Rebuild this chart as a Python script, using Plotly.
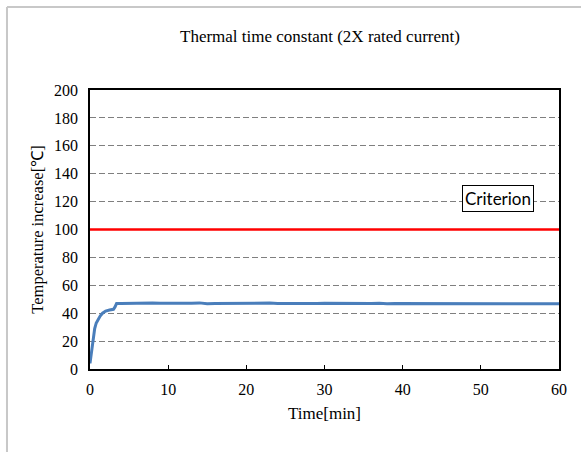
import plotly.graph_objects as go

# Data
time_min = [0, 0.2, 0.4, 0.6, 0.8, 1.0, 1.3, 1.6, 2.0, 2.5, 3.0, 3.2, 3.4,
            4, 5, 6, 7, 8, 9, 10, 11, 12, 13, 14, 15, 16, 17, 18, 19, 20,
            21, 22, 23, 24, 25, 26, 27, 28, 29, 30, 31, 32, 33, 34, 35, 36,
            37, 38, 39, 40, 41, 42, 43, 44, 45, 46, 47, 48, 49, 50, 51, 52,
            53, 54, 55, 56, 57, 58, 59, 60]
temp_rise = [4, 12, 22, 29, 33, 35.5, 38, 40, 41.5, 42.3, 42.8, 44.5, 47,
             46.9, 47.1, 47.2, 47.0, 47.3, 47.1, 47.0, 47.2, 46.9, 47.1, 47.4, 46.8, 47.0, 47.1, 46.9, 47.2, 47.0,
             47.1, 47.2, 47.3, 47.0, 46.9, 47.1, 47.0, 46.8, 47.0, 47.1, 47.0, 46.9, 47.0, 47.2, 47.0, 46.9,
             47.1, 46.7, 47.0, 47.0, 47.1, 47.0, 47.2, 47.1, 47.0, 47.0, 47.3, 47.1, 47.0, 47.2, 46.9, 47.0,
             47.1, 46.8, 47.0, 46.9, 47.1, 47.0, 46.9, 46.8]
criterion_value = 100
x_ticks = [0, 10, 20, 30, 40, 50, 60]
y_ticks = [0, 20, 40, 60, 80, 100, 120, 140, 160, 180, 200]

fig = go.Figure()
fig.add_trace(go.Scatter(x=time_min, y=temp_rise, mode="lines",
                         line=dict(color="#4a7ebb", width=3), showlegend=False))
fig.add_trace(go.Scatter(x=[0, 60], y=[criterion_value, criterion_value], mode="lines",
                         xaxis="x2", yaxis="y",
                         line=dict(color="#ff0000", width=2.5), showlegend=False))

serif = "Liberation Serif, Times New Roman, serif"

fig.add_annotation(x=52.2, y=122.2, xref="x", yref="y", text="Criterion",
                   showarrow=False, font=dict(family="Lato, sans-serif", size=17, color="black"),
                   bgcolor="white", bordercolor="black", borderwidth=1, borderpad=2)

fig.add_annotation(x=0.49, y=1.19, xref="paper", yref="paper", yanchor="middle",
                   text="Thermal time constant (2X rated current)", showarrow=False,
                   font=dict(family=serif, size=17, color="black"))

# outer frame (gray)
fig.add_shape(type="line", xref="paper", yref="paper", x0=-0.177, x1=-0.177, y0=-0.35, y1=1.2975,
              line=dict(color="#c8c8c8", width=2))
fig.add_shape(type="line", xref="paper", yref="paper", x0=-0.177, x1=1.1, y0=1.2975, y1=1.2975,
              line=dict(color="#c8c8c8", width=2))

fig.update_layout(
    width=581, height=452,
    margin=dict(l=90, r=22, t=90, b=83),
    paper_bgcolor="white", plot_bgcolor="white",
    font=dict(family=serif, size=16, color="black"),
    xaxis=dict(range=[0, 60], tickvals=x_ticks, showgrid=False, zeroline=False,
               showline=True, linecolor="black", linewidth=1.5, mirror=True,
               ticks="outside", ticklen=5, tickcolor="rgba(0,0,0,0)",
               title=dict(text="Time[min]", font=dict(family=serif, size=17), standoff=10),
               tickfont=dict(family=serif, size=16)),
    xaxis2=dict(overlaying="x", anchor="y", side="bottom", range=[0, 60], tickvals=x_ticks,
                showticklabels=False, showgrid=False, zeroline=False, showline=False,
                ticks="inside", ticklen=4, tickcolor="black", tickwidth=1),
    yaxis=dict(range=[0, 200], tickvals=y_ticks, showgrid=True, gridcolor="#7f7f7f",
               griddash="6px,3px", gridwidth=1, zeroline=False,
               showline=True, linecolor="black", linewidth=1.5, mirror=True,
               ticks="outside", ticklen=7, tickcolor="rgba(0,0,0,0)",
               title=dict(text="Temperature increase[℃]", font=dict(family=serif, size=16.5), standoff=6),
               tickfont=dict(family=serif, size=16)),
)

fig.write_html("out.html")
